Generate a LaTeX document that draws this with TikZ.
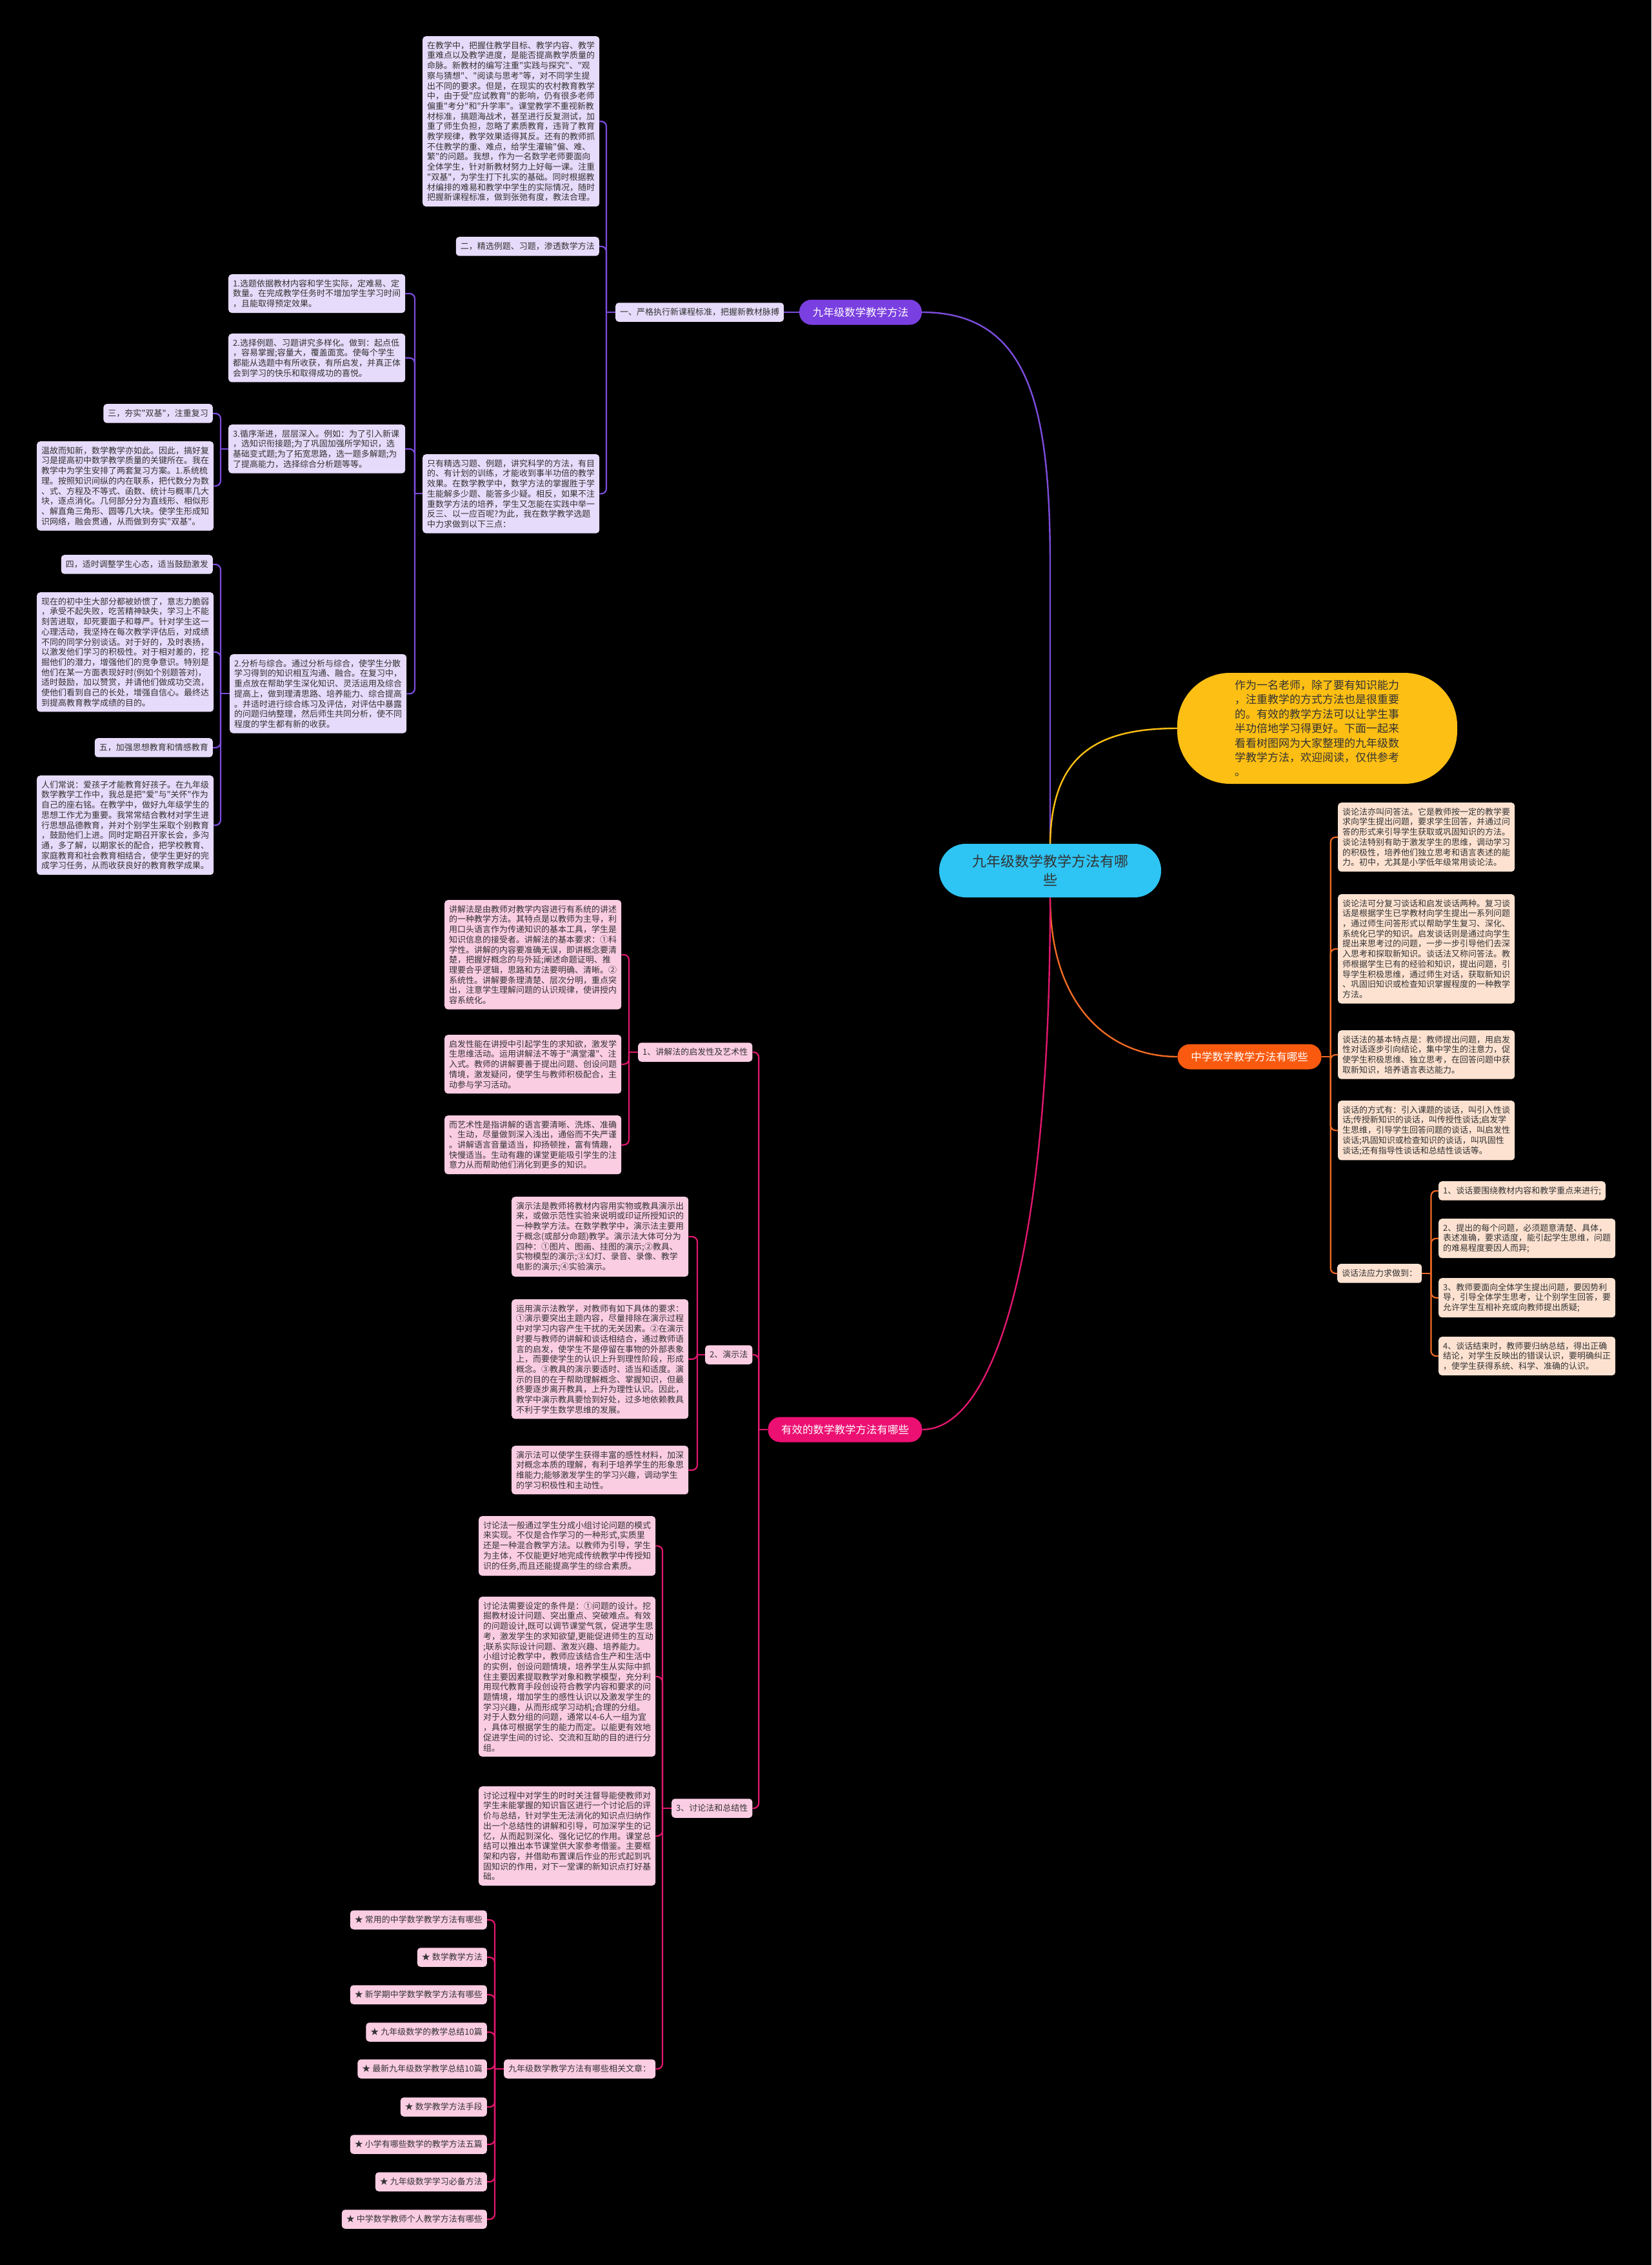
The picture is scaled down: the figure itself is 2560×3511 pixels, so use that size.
\documentclass[tikz,border=0pt]{standalone}
\usepackage{fontspec}
\setmainfont{Noto Sans CJK SC}
\newfontfamily\cjkf{Noto Sans CJK SC}
\definecolor{bg}{HTML}{000000}
\definecolor{txt}{HTML}{333333}
\definecolor{purp}{HTML}{7A3FE0}
\definecolor{purpl}{HTML}{7C4DDB}
\definecolor{lav}{HTML}{E6DBFA}
\definecolor{cyanc}{HTML}{2EC4F3}
\definecolor{yel}{HTML}{FDBF14}
\definecolor{ora}{HTML}{FA5A0F}
\definecolor{oral}{HTML}{F06A23}
\definecolor{peach}{HTML}{FDE2D1}
\definecolor{pink}{HTML}{EC1072}
\definecolor{pinkl}{HTML}{E0176E}
\definecolor{pinkbox}{HTML}{FBCDE3}
\begin{document}
\begin{tikzpicture}[x=1pt,y=-1pt,
  box/.style={rounded corners=5pt, inner xsep=7pt, inner ysep=8pt, text width=260pt, align=left, font=\cjkf\fontsize{13}{15.7}\selectfont, text=txt},
  sbox/.style={rounded corners=5pt, inner xsep=7pt, inner ysep=8pt, text height=11pt, text depth=2.5pt, font=\cjkf\fontsize{13}{15.7}\selectfont, text=txt},
  pbox/.style={box, fill=lav}, psbox/.style={sbox, fill=lav},
  obox/.style={box, fill=peach}, osbox/.style={sbox, fill=peach},
  kbox/.style={box, fill=pinkbox}, ksbox/.style={sbox, fill=pinkbox},
  pill/.style={rounded corners=19pt, inner sep=0pt, minimum height=39pt, text=white, font=\cjkf\fontsize{16.5}{20}\selectfont},
  pc/.style={draw=purpl, line width=2.2pt, rounded corners=8pt},
  oc/.style={draw=oral, line width=2.2pt, rounded corners=8pt},
  kc/.style={draw=pinkl, line width=2.2pt, rounded corners=8pt},
  mainc/.style={line width=2.4pt}
]
\fill[bg] (0,0) rectangle (2560,3511);
\useasboundingbox (0,0) rectangle (2560,3511);

% ---------- root ----------
\node[rounded corners=41pt, fill=cyanc, minimum width=344pt, minimum height=83pt, align=center, text=txt, font=\cjkf\fontsize{22}{29}\selectfont] (root) at (1628,1349.5) {九年级数学教学方法有哪\\些};

% ---------- yellow intro ----------
\node[rounded corners=82pt, fill=yel, minimum width=434pt, minimum height=172pt, text width=256pt, align=left, text=txt, font=\cjkf\fontsize{17}{22.4}\selectfont] (Y) at (2042,1129) {作为一名老师，除了要有知识能力\\，注重教学的方式方法也是很重要\\的。有效的教学方法可以让学生事\\半功倍地学习得更好。下面一起来\\看看树图网为大家整理的九年级数\\学教学方法，欢迎阅读，仅供参考\\。};

% ---------- purple branch ----------
\node[pill, fill=purp, minimum width=190pt] (P0) at (1334,484) {九年级数学教学方法};
\node[psbox, anchor=west] (P1) at (954,484) {一、严格执行新课程标准，把握新教材脉搏};
\node[pbox, anchor=north west] (P1a) at (655,56) {在教学中，把握住教学目标、教学内容、教学\\重难点以及教学进度，是能否提高教学质量的\\命脉。新教材的编写注重"实践与探究"、"观\\察与猜想"、"阅读与思考"等，对不同学生提\\出不同的要求。但是，在现实的农村教育教学\\中，由于受"应试教育"的影响，仍有很多老师\\偏重"考分"和"升学率"。课堂教学不重视新教\\材标准，搞题海战术，甚至进行反复测试，加\\重了师生负担，忽略了素质教育，违背了教育\\教学规律，教学效果适得其反。还有的教师抓\\不住教学的重、难点，给学生灌输"偏、难、\\繁"的问题。我想，作为一名数学老师要面向\\全体学生，针对新教材努力上好每一课。注重\\"双基"，为学生打下扎实的基础。同时根据教\\材编排的难易和教学中学生的实际情况，随时\\把握新课程标准，做到张弛有度，教法合理。};
\node[psbox, anchor=north east] (P1b) at (929,367) {二，精选例题、习题，渗透数学方法};
\node[pbox, anchor=north west] (P1c) at (655,704) {只有精选习题、例题，讲究科学的方法，有目\\的、有计划的训练，才能收到事半功倍的教学\\效果。在数学教学中，数学方法的掌握胜于学\\生能解多少题、能答多少疑。相反，如果不注\\重数学方法的培养，学生又怎能在实践中举一\\反三、以一应百呢?为此，我在数学教学选题\\中力求做到以下三点：};
\node[pbox, anchor=north west] (I1) at (354,425) {1.选题依据教材内容和学生实际，定难易、定\\数量。在完成教学任务时不增加学生学习时间\\，且能取得预定效果。};
\node[pbox, anchor=north west] (I2) at (354,517) {2.选择例题、习题讲究多样化。做到：起点低\\，容易掌握;容量大，覆盖面宽。使每个学生\\都能从选题中有所收获，有所启发，并真正体\\会到学习的快乐和取得成功的喜悦。};
\node[pbox, anchor=north west] (I3) at (354,658) {3.循序渐进，层层深入。例如：为了引入新课\\，选知识衔接题;为了巩固加强所学知识，选\\基础变式题;为了拓宽思路，选一题多解题;为\\了提高能力，选择综合分析题等等。};
\node[pbox, anchor=north west] (I4) at (356,1014) {2.分析与综合。通过分析与综合，使学生分散\\学习得到的知识相互沟通、融合。在复习中，\\重点放在帮助学生深化知识、灵活运用及综合\\提高上，做到理清思路、培养能力、综合提高\\。并适时进行综合练习及评估，对评估中暴露\\的问题归纳整理，然后师生共同分析，使不同\\程度的学生都有新的收获。};
\node[psbox, anchor=north east] (L1) at (330,626) {三，夯实"双基"，注重复习};
\node[pbox, anchor=north west] (L2) at (57,684) {温故而知新，数学教学亦如此。因此，搞好复\\习是提高初中数学教学质量的关键所在。我在\\教学中为学生安排了两套复习方案。1.系统梳\\理。按照知识间纵的内在联系，把代数分为数\\、式、方程及不等式、函数、统计与概率几大\\块，逐点消化。几何部分分为直线形、相似形\\、解直角三角形、圆等几大块。使学生形成知\\识网络，融会贯通，从而做到夯实"双基"。};
\node[psbox, anchor=north east] (L3) at (330,860) {四，适时调整学生心态，适当鼓励激发};
\node[pbox, anchor=north west] (L4) at (57,918) {现在的初中生大部分都被娇惯了，意志力脆弱\\，承受不起失败，吃苦精神缺失，学习上不能\\刻苦进取，却死要面子和尊严。针对学生这一\\心理活动，我坚持在每次教学评估后，对成绩\\不同的同学分别谈话。对于好的，及时表扬，\\以激发他们学习的积极性。对于相对差的，挖\\掘他们的潜力，增强他们的竞争意识。特别是\\他们在某一方面表现好时(例如个别题答对)，\\适时鼓励，加以赞赏，并请他们做成功交流，\\使他们看到自己的长处，增强自信心。最终达\\到提高教育教学成绩的目的。};
\node[psbox, anchor=north east] (L5) at (330,1144) {五，加强思想教育和情感教育};
\node[pbox, anchor=north west] (L6) at (57,1202) {人们常说：爱孩子才能教育好孩子。在九年级\\数学教学工作中，我总是把"爱"与"关怀"作为\\自己的座右铭。在教学中，做好九年级学生的\\思想工作尤为重要。我常常结合教材对学生进\\行思想品德教育，并对个别学生采取个别教育\\，鼓励他们上进。同时定期召开家长会，多沟\\通，多了解，以期家长的配合，把学校教育、\\家庭教育和社会教育相结合，使学生更好的完\\成学习任务，从而收获良好的教育教学成果。};

% ---------- orange branch ----------
\node[pill, fill=ora, minimum width=223pt] (O) at (1937,1638) {中学数学教学方法有哪些};
\node[obox, anchor=north west] (OA) at (2074,1244) {谈论法亦叫问答法。它是教师按一定的教学要\\求向学生提出问题，要求学生回答，并通过问\\答的形式来引导学生获取或巩固知识的方法。\\谈论法特别有助于激发学生的思维，调动学习\\的积极性，培养他们独立思考和语言表述的能\\力。初中，尤其是小学低年级常用谈论法。};
\node[obox, anchor=north west] (OB) at (2074,1386) {谈论法可分复习谈话和启发谈话两种。复习谈\\话是根据学生已学教材向学生提出一系列问题\\，通过师生问答形式以帮助学生复习、深化、\\系统化已学的知识。启发谈话则是通过向学生\\提出来思考过的问题，一步一步引导他们去深\\入思考和探取新知识。谈话法又称问答法。教\\师根据学生已有的经验和知识，提出问题，引\\导学生积极思维，通过师生对话，获取新知识\\、巩固旧知识或检查知识掌握程度的一种教学\\方法。};
\node[obox, anchor=north west] (OC) at (2074,1597) {谈话法的基本特点是：教师提出问题，用启发\\性对话逐步引向结论，集中学生的注意力，促\\使学生积极思维、独立思考，在回答问题中获\\取新知识，培养语言表达能力。};
\node[obox, anchor=north west] (OD) at (2074,1706) {谈话的方式有：引入课题的谈话，叫引入性谈\\话;传授新知识的谈话，叫传授性谈话;启发学\\生思维，引导学生回答问题的谈话，叫启发性\\谈话;巩固知识或检查知识的谈话，叫巩固性\\谈话;还有指导性谈话和总结性谈话等。};
\node[osbox, anchor=north west] (OE) at (2073,1959) {谈话法应力求做到：};
\node[osbox, anchor=north west] (OE1) at (2230,1831) {1、谈话要围绕教材内容和教学重点来进行;};
\node[obox, anchor=north west] (OE2) at (2230,1889) {2、提出的每个问题，必须题意清楚、具体，\\表述准确，要求适度，能引起学生思维，问题\\的难易程度要因人而异;};
\node[obox, anchor=north west] (OE3) at (2230,1981) {3、教师要面向全体学生提出问题，要因势利\\导，引导全体学生思考，让个别学生回答，要\\允许学生互相补充或向教师提出质疑;};
\node[obox, anchor=north west] (OE4) at (2230,2072) {4、谈话结束时，教师要归纳总结，得出正确\\结论，对学生反映出的错误认识，要明确纠正\\，使学生获得系统、科学、准确的认识。};

% ---------- pink branch ----------
\node[pill, fill=pink, minimum width=239pt] (K0) at (1310,2216) {有效的数学教学方法有哪些};
\node[ksbox, anchor=west] (K1) at (989,1631) {1、讲解法的启发性及艺术性};
\node[kbox, anchor=north west] (K1a) at (689,1395) {讲解法是由教师对教学内容进行有系统的讲述\\的一种教学方法。其特点是以教师为主导，利\\用口头语言作为传递知识的基本工具，学生是\\知识信息的接受者。讲解法的基本要求：①科\\学性。讲解的内容要准确无误，即讲概念要清\\楚，把握好概念的与外延;阐述命题证明、推\\理要合乎逻辑，思路和方法要明确、清晰。②\\系统性。讲解要条理清楚、层次分明，重点突\\出，注意学生理解问题的认识规律，使讲授内\\容系统化。};
\node[kbox, anchor=north west] (K1b) at (689,1604) {启发性能在讲授中引起学生的求知欲，激发学\\生思维活动。运用讲解法不等于"满堂灌"、注\\入式。教师的讲解要善于提出问题、创设问题\\情境，激发疑问，使学生与教师积极配合，主\\动参与学习活动。};
\node[kbox, anchor=north west] (K1c) at (689,1729) {而艺术性是指讲解的语言要清晰、洗炼、准确\\、生动，尽量做到深入浅出，通俗而不失严谨\\。讲解语言音量适当，抑扬顿挫，富有情趣，\\快慢适当。生动有趣的课堂更能吸引学生的注\\意力从而帮助他们消化到更多的知识。};
\node[ksbox, anchor=west] (K2) at (1093,2100) {2、演示法};
\node[kbox, anchor=north west] (K2a) at (793,1855) {演示法是教师将教材内容用实物或教具演示出\\来，或做示范性实验来说明或印证所授知识的\\一种教学方法。在数学教学中，演示法主要用\\于概念(或部分命题)教学。演示法大体可分为\\四种：①图片、图画、挂图的演示;②教具、\\实物模型的演示;③幻灯、录音、录像、教学\\电影的演示;④实验演示。};
\node[kbox, anchor=north west] (K2b) at (793,2014) {运用演示法教学，对教师有如下具体的要求：\\①演示要突出主题内容，尽量排除在演示过程\\中对学习内容产生干扰的无关因素。②在演示\\时要与教师的讲解和谈话相结合，通过教师语\\言的启发，使学生不是停留在事物的外部表象\\上，而要使学生的认识上升到理性阶段，形成\\概念。③教具的演示要适时、适当和适度。演\\示的目的在于帮助理解概念、掌握知识，但最\\终要逐步离开教具，上升为理性认识。因此，\\教学中演示教具要恰到好处，过多地依赖教具\\不利于学生数学思维的发展。};
\node[kbox, anchor=north west] (K2c) at (793,2241) {演示法可以使学生获得丰富的感性材料，加深\\对概念本质的理解，有利于培养学生的形象思\\维能力;能够激发学生的学习兴趣，调动学生\\的学习积极性和主动性。};
\node[ksbox, anchor=west] (K3) at (1041,2803) {3、讨论法和总结性};
\node[kbox, anchor=north west] (K3a) at (742,2350) {讨论法一般通过学生分成小组讨论问题的模式\\来实现。不仅是合作学习的一种形式,实质里\\还是一种混合教学方法。以教师为引导，学生\\为主体，不仅能更好地完成传统教学中传授知\\识的任务,而且还能提高学生的综合素质。};
\node[kbox, anchor=north west] (K3b) at (742,2475) {讨论法需要设定的条件是：①问题的设计。挖\\掘教材设计问题、突出重点、突破难点。有效\\的问题设计,既可以调节课堂气氛，促进学生思\\考，激发学生的求知欲望,更能促进师生的互动\\;联系实际设计问题、激发兴趣、培养能力。\\小组讨论教学中，教师应该结合生产和生活中\\的实例，创设问题情境，培养学生从实际中抓\\住主要因素提取教学对象和教学模型，充分利\\用现代教育手段创设符合教学内容和要求的问\\题情境，增加学生的感性认识以及激发学生的\\学习兴趣，从而形成学习动机;合理的分组。\\对于人数分组的问题，通常以4-6人一组为宜\\，具体可根据学生的能力而定。以能更有效地\\促进学生间的讨论、交流和互助的目的进行分\\组。};
\node[kbox, anchor=north west] (K3c) at (742,2769) {讨论过程中对学生的时时关注督导能使教师对\\学生未能掌握的知识盲区进行一个讨论后的评\\价与总结，针对学生无法消化的知识点归纳作\\出一个总结性的讲解和引导，可加深学生的记\\忆，从而起到深化、强化记忆的作用。课堂总\\结可以推出本节课堂供大家参考借鉴。主要框\\架和内容，并借助布置课后作业的形式起到巩\\固知识的作用，对下一堂课的新知识点打好基\\础。};
\node[ksbox, anchor=west] (K4) at (781,3207) {九年级数学教学方法有哪些相关文章：};
\node[ksbox, anchor=east] (S1) at (755,2976) {★ 常用的中学数学教学方法有哪些};
\node[ksbox, anchor=east] (S2) at (755,3034) {★ 数学教学方法};
\node[ksbox, anchor=east] (S3) at (755,3092) {★ 新学期中学数学教学方法有哪些};
\node[ksbox, anchor=east] (S4) at (755,3150) {★ 九年级数学的教学总结10篇};
\node[ksbox, anchor=east] (S5) at (755,3207) {★ 最新九年级数学教学总结10篇};
\node[ksbox, anchor=east] (S6) at (755,3266) {★ 数学教学方法手段};
\node[ksbox, anchor=east] (S7) at (755,3324) {★ 小学有哪些数学的教学方法五篇};
\node[ksbox, anchor=east] (S8) at (755,3382) {★ 九年级数学学习必备方法};
\node[ksbox, anchor=east] (S9) at (755,3440) {★ 中学数学教师个人教学方法有哪些};

% ---------- main curves ----------
\coordinate (rootT) at (root.north);
\coordinate (rootB) at (root.south);
\draw[mainc, draw=purpl] (P0.east) .. controls (1600,484) and (1628,640) .. (1628,880) -- (rootT);
\draw[mainc, draw=yel] (rootT) .. controls (1630,1170) and (1700,1129) .. (Y.west);
\draw[mainc, draw=oral] (rootB) .. controls (1628,1560) and (1720,1638) .. (O.west);
\draw[mainc, draw=pinkl] (rootB) .. controls (1628,1950) and (1540,2216) .. (K0.east);

% ---------- purple connectors ----------
\draw[pc] (P0.west) -- (P1.east);
\coordinate (P1t) at ([xshift=-14pt]P1.west);
\draw[pc] (P1.west) -- (P1t);
\foreach \c in {P1a,P1b,P1c} \draw[pc] (P1t) |- (\c.east);
\coordinate (P1ct) at ([xshift=-12pt]P1c.west);
\draw[pc] (P1c.west) -- (P1ct);
\foreach \c in {I1,I2,I3,I4} \draw[pc] (P1ct) |- (\c.east);
\coordinate (I3t) at ([xshift=-12pt]I3.west);
\draw[pc] (I3.west) -- (I3t);
\foreach \c in {L1,L2} \draw[pc] (I3t) |- (\c.east);
\coordinate (I4t) at ([xshift=-14pt]I4.west);
\draw[pc] (I4.west) -- (I4t);
\foreach \c in {L3,L4,L5,L6} \draw[pc] (I4t) |- (\c.east);

% ---------- orange connectors ----------
\coordinate (Ot) at ([xshift=14pt]O.east);
\draw[oc] (O.east) -- (Ot);
\foreach \c in {OA,OB,OC,OD,OE} \draw[oc] (Ot) |- (\c.west);
\coordinate (OEt) at ([xshift=14pt]OE.east);
\draw[oc] (OE.east) -- (OEt);
\foreach \c in {OE1,OE2,OE3,OE4} \draw[oc] (OEt) |- (\c.west);

% ---------- pink connectors ----------
\coordinate (K0t) at ([xshift=-14pt]K0.west);
\draw[kc] (K0.west) -- (K0t);
\foreach \c in {K1,K2,K3} \draw[kc] (K0t) |- (\c.east);
\coordinate (K1t) at ([xshift=-14pt]K1.west);
\draw[kc] (K1.west) -- (K1t);
\foreach \c in {K1a,K1b,K1c} \draw[kc] (K1t) |- (\c.east);
\coordinate (K2t) at ([xshift=-12pt]K2.west);
\draw[kc] (K2.west) -- (K2t);
\foreach \c in {K2a,K2b,K2c} \draw[kc] (K2t) |- (\c.east);
\coordinate (K3t) at ([xshift=-14pt]K3.west);
\draw[kc] (K3.west) -- (K3t);
\foreach \c in {K3a,K3b,K3c,K4} \draw[kc] (K3t) |- (\c.east);
\coordinate (K4t) at ([xshift=-14pt]K4.west);
\draw[kc] (K4.west) -- (K4t);
\foreach \c in {S1,S2,S3,S4,S5,S6,S7,S8,S9} \draw[kc] (K4t) |- (\c.east);
\end{tikzpicture}
\end{document}
